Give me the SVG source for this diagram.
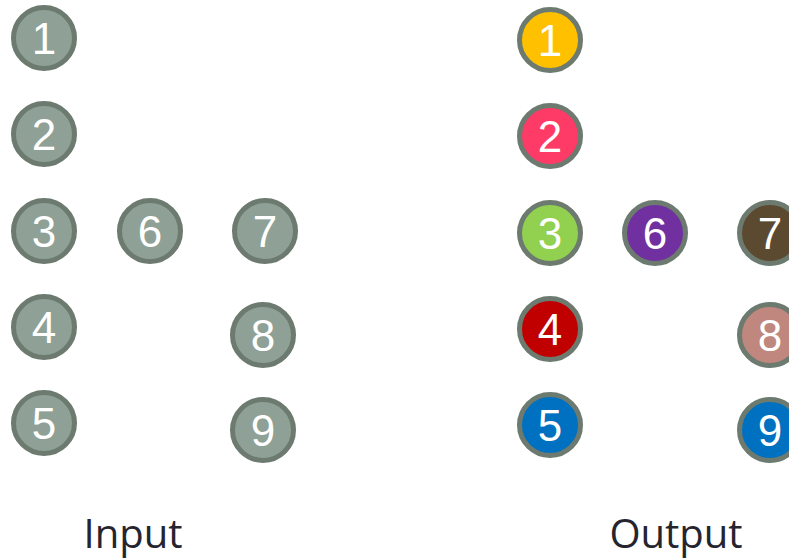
<svg xmlns="http://www.w3.org/2000/svg" width="789" height="560" viewBox="0 0 789 560">
<style>
circle{stroke:#6c7a6f;stroke-width:5}
.in{fill:#8fa196}
.n{font-family:"Liberation Sans",Arial,sans-serif;font-size:44px;fill:#fff;text-anchor:middle}
.lbl{font-family:"Open Sans",sans-serif;font-size:40px;fill:#25252f;text-anchor:middle}
</style>
<rect width="789" height="560" fill="#fff"/>
<g id="input">
<g id="in1"><circle class="in" cx="44" cy="38" r="30.5"/><text class="n" x="44" y="54">1</text></g>
<g id="in2"><circle class="in" cx="44" cy="134" r="30.5"/><text class="n" x="44" y="150">2</text></g>
<g id="in3"><circle class="in" cx="44" cy="231" r="30.5"/><text class="n" x="44" y="247">3</text></g>
<g id="in4"><circle class="in" cx="44" cy="327" r="30.5"/><text class="n" x="44" y="343">4</text></g>
<g id="in5"><circle class="in" cx="44" cy="423" r="30.5"/><text class="n" x="44" y="439">5</text></g>
<g id="in6"><circle class="in" cx="150" cy="231" r="30.5"/><text class="n" x="150" y="247">6</text></g>
<g id="in7"><circle class="in" cx="265" cy="231" r="30.5"/><text class="n" x="265" y="247">7</text></g>
<g id="in8"><circle class="in" cx="263" cy="335" r="30.5"/><text class="n" x="263" y="351">8</text></g>
<g id="in9"><circle class="in" cx="263" cy="430" r="30.5"/><text class="n" x="263" y="446">9</text></g>
<text class="lbl" x="133" y="548">Input</text>
</g>
<g id="output">
<g id="out1"><circle fill="#ffc000" cx="550" cy="40" r="30.5"/><text class="n" x="550" y="56">1</text></g>
<g id="out2"><circle fill="#fe3b66" cx="550" cy="136" r="30.5"/><text class="n" x="550" y="152">2</text></g>
<g id="out3"><circle fill="#92d050" cx="550" cy="233" r="30.5"/><text class="n" x="550" y="249">3</text></g>
<g id="out4"><circle fill="#c00000" cx="550" cy="329" r="30.5"/><text class="n" x="550" y="345">4</text></g>
<g id="out5"><circle fill="#0070c0" cx="550" cy="425" r="30.5"/><text class="n" x="550" y="441">5</text></g>
<g id="out6"><circle fill="#7030a0" cx="655" cy="233" r="30.5"/><text class="n" x="655" y="249">6</text></g>
<g id="out7"><circle fill="#5b4a30" cx="770" cy="233" r="30.5"/><text class="n" x="770" y="249">7</text></g>
<g id="out8"><circle fill="#c0877e" cx="770" cy="335" r="30.5"/><text class="n" x="770" y="351">8</text></g>
<g id="out9"><circle fill="#0070c0" cx="770" cy="430" r="30.5"/><text class="n" x="770" y="446">9</text></g>
<text class="lbl" x="676" y="548">Output</text>
</g>
</svg>
